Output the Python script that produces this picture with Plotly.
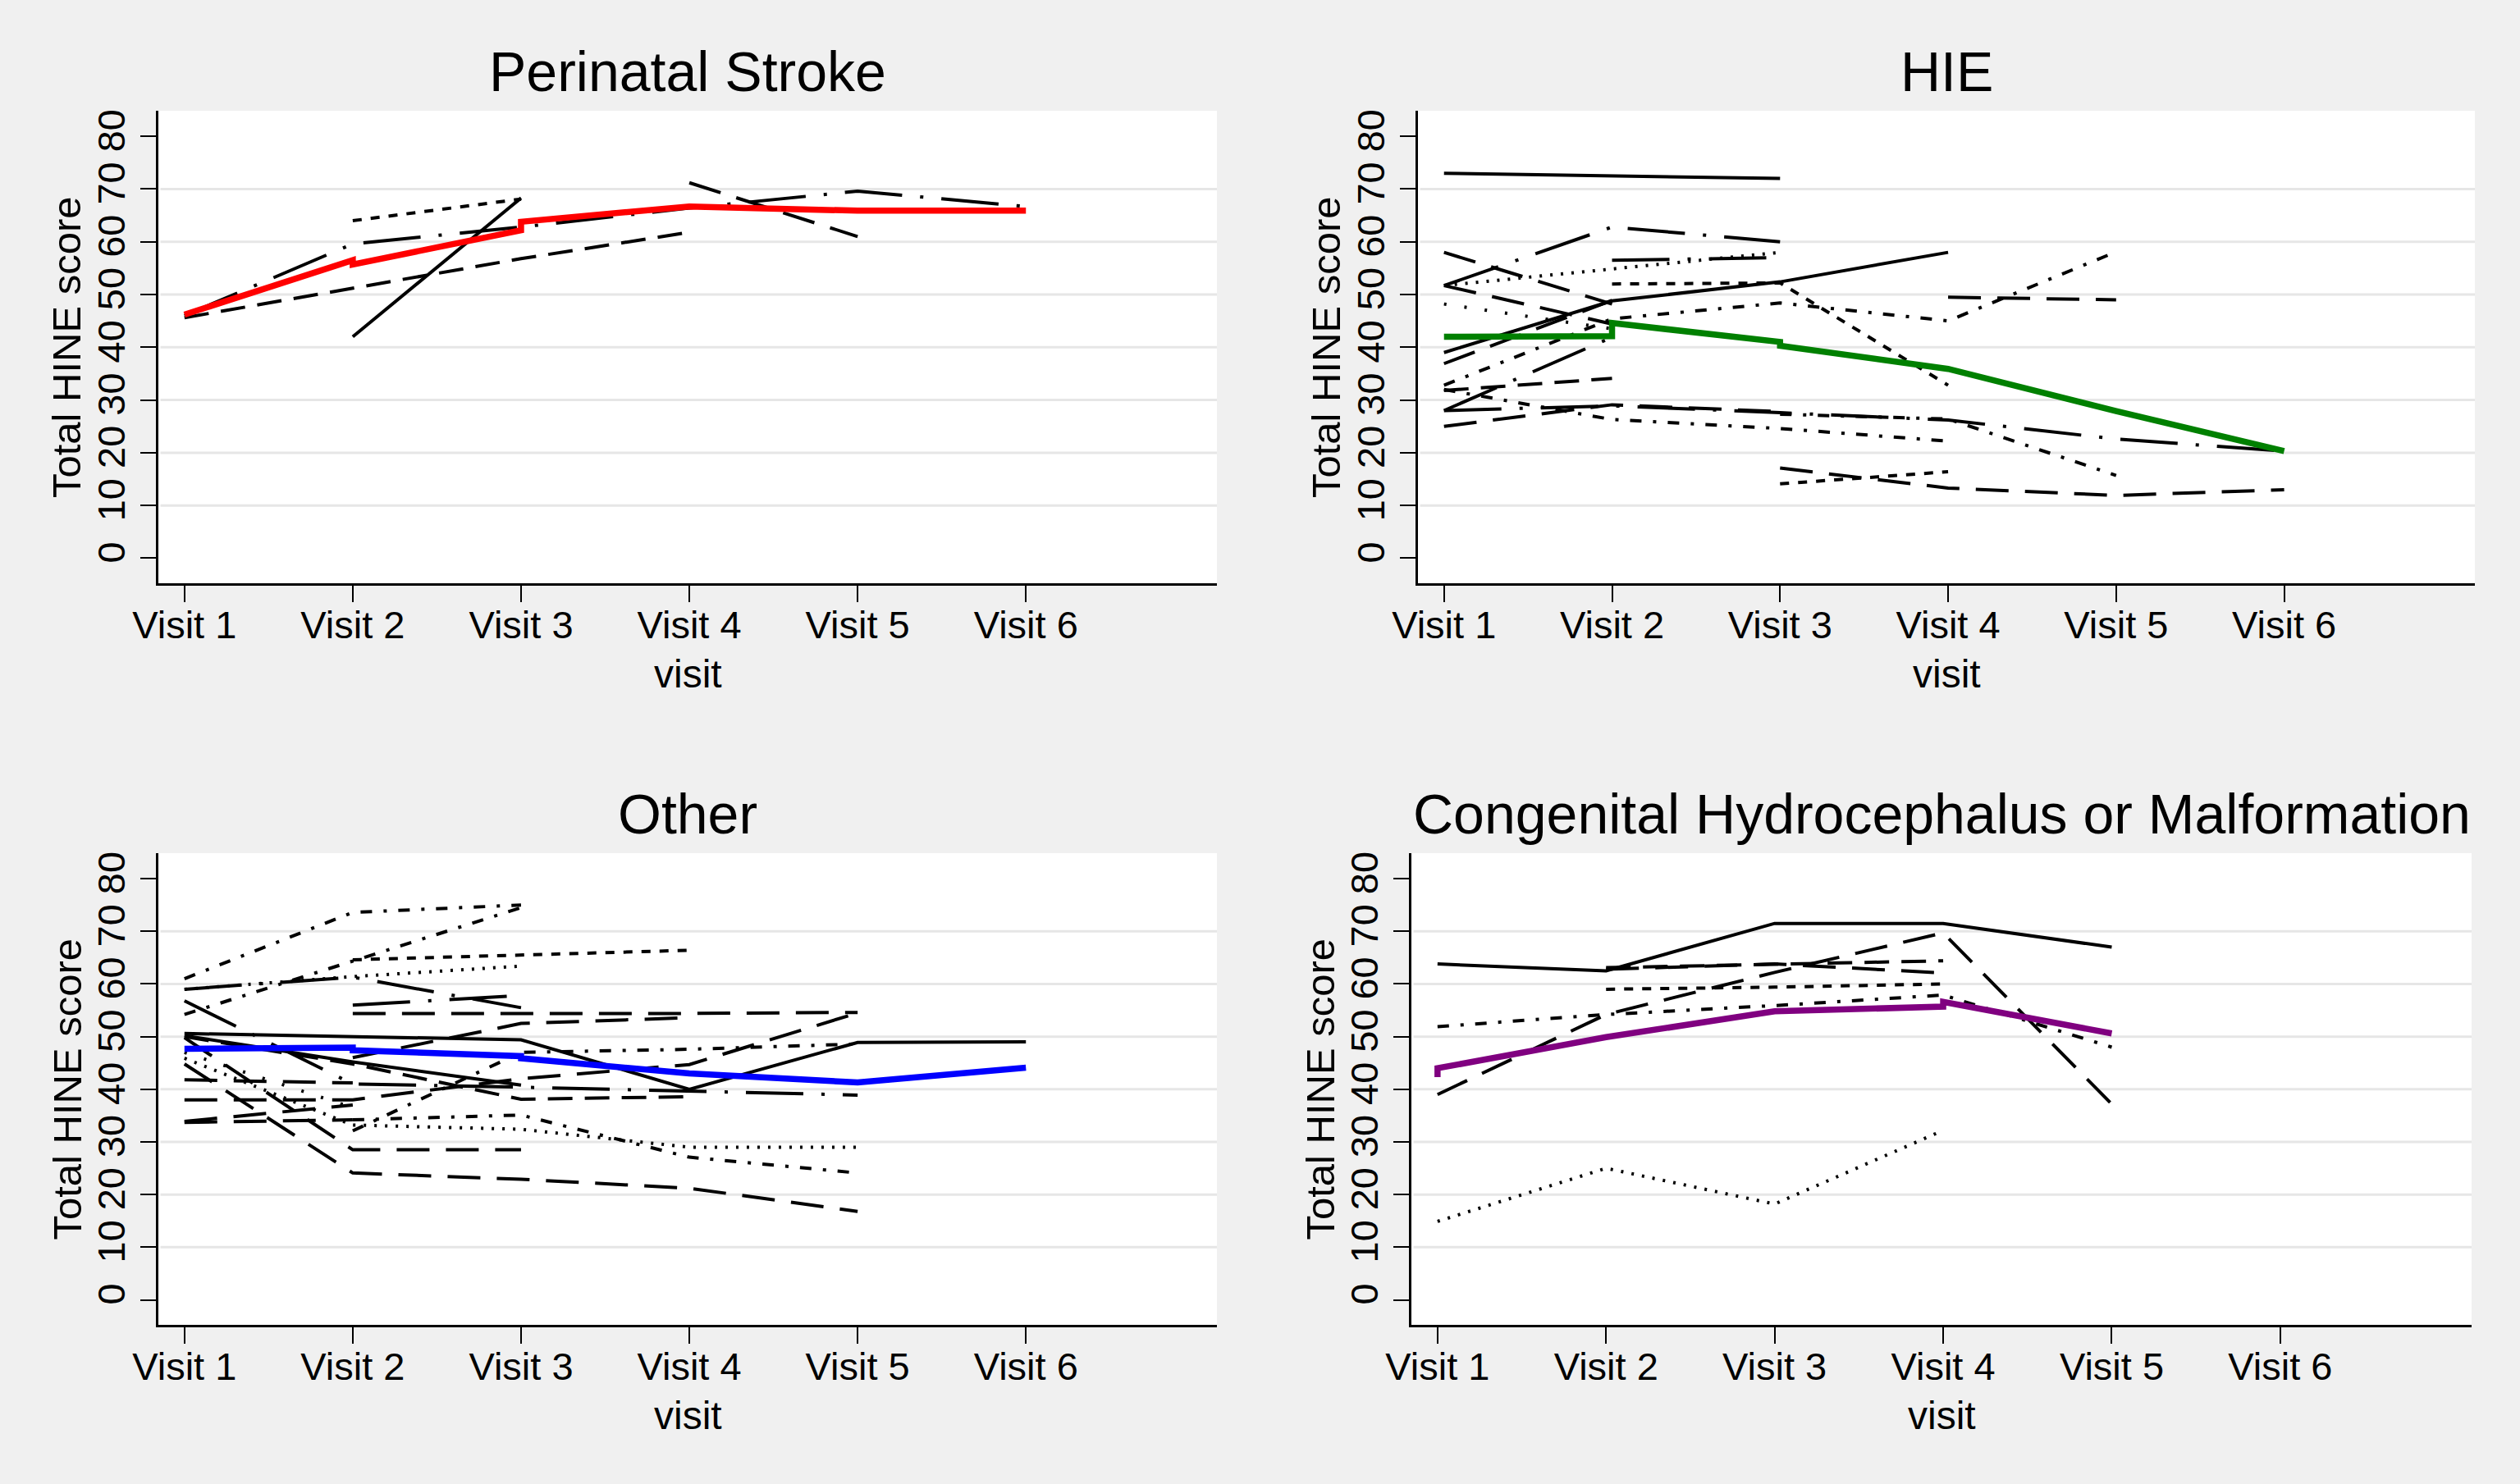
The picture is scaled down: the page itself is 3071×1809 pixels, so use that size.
import plotly.graph_objects as go

W, H = 3071, 1809

VISITS = [1, 2, 3, 4, 5, 6]
VISIT_LABELS = ["Visit 1", "Visit 2", "Visit 3", "Visit 4", "Visit 5", "Visit 6"]
Y_TICKS = [0, 10, 20, 30, 40, 50, 60, 70, 80]
GRID_VALUES = [10, 20, 30, 40, 50, 60, 70]
PANEL_TITLES = ["Perinatal Stroke", "HIE", "Other", "Congenital Hydrocephalus or Malformation"]
X_TITLE = "visit"
Y_TITLE = "Total HINE score"

# ---- Perinatal Stroke: individual trajectories (visit 1..6, None = not seen)
stroke_series = [
    [45.6, 51.2, 56.8, 61.8, None, None],
    [46.0, 59.6, 62.8, 66.4, 69.6, 66.7],
    [None, 64.0, 68.1, None, None, None],
    [None, 42.0, 68.3, None, None, None],
    [None, None, None, 71.2, 61.0, None],
]
stroke_patterns = ["dash", "longdashdot", "shortdash", "solid", "longdash"]
stroke_mean_x = [1, 2, 2, 3, 3, 4, 5, 6]
stroke_mean_y = [46.2, 56.5, 55.7, 62.2, 63.8, 66.7, 65.9, 65.9]

# ---- HIE
hie_series = [
    [73.0, 72.5, 72.0, None, None, None],
    [58.0, 48.2, None, None, None, None],
    [51.7, 62.8, 60.0, None, None, None],
    [51.7, 44.4, None, None, None, None],
    [51.7, 54.9, 58.0, None, None, None],
    [None, 56.5, 57.0, None, None, None],
    [None, 52.0, 52.2, 32.8, None, None],
    [39.0, 48.8, 52.4, 58.0, None, None],
    [36.9, 48.9, None, None, None, None],
    [48.2, 43.5, None, None, None, None],
    [32.8, 45.4, 48.4, 45.0, 58.1, None],
    [31.8, 34.1, None, None, None, None],
    [28.0, 41.9, None, None, None, None],
    [28.0, 28.9, 27.6, 26.2, 22.6, 20.3],
    [25.0, 29.1, 27.8, None, None, None],
    [32.0, 26.3, 24.6, 22.2, None, None],
    [None, None, None, 49.5, 49.0, None],
    [None, None, 27.3, 26.4, 15.7, None],
    [None, None, 17.1, 13.3, 11.9, 13.0],
    [None, None, 14.1, 16.4, None, None],
]
hie_patterns = ["solid", "longdash", "longdashdot", "longdash", "dot", "longdashdot",
                "shortdash", "solid", "longdash", "sparsedot", "dashdot", "dash",
                "longdashdot", "longdashdot", "longdash", "dashdot", "longdash",
                "dashdot", "longdash", "shortdash"]
hie_mean_x = [1, 2, 2, 3, 3, 4, 5, 6]
hie_mean_y = [42.0, 42.1, 44.6, 41.0, 40.3, 35.9, 27.9, 20.3]

# ---- Other
other_series = [
    [61.0, 73.6, 75.0, None, None, None],
    [54.2, 64.4, 74.5, None, None, None],
    [None, 64.6, 65.5, 66.4, None, None],
    [59.0, 61.4, 63.4, None, None, None],
    [59.0, 61.3, 55.5, None, None, None],
    [56.8, 41.0, 40.4, 39.6, 38.9, None],
    [None, 54.4, 54.4, 54.4, 54.6, None],
    [None, 56.0, 57.8, None, None, None],
    [50.6, 50.0, 49.4, 40.0, 48.9, 49.0],
    [None, 46.0, 52.5, 53.6, None, None],
    [38.0, 38.0, 42.0, 44.7, 54.5, None],
    [None, 32.1, 47.0, 47.6, 48.6, None],
    [41.8, 41.2, None, None, None, None],
    [50.0, 44.8, 38.1, 38.6, None, None],
    [44.8, 24.1, 22.9, 21.2, 16.8, None],
    [None, 34.2, 35.1, 27.1, 24.1, None],
    [45.9, 33.2, 32.4, 29.0, 29.0, None],
    [49.8, 28.5, 28.5, None, None, None],
    [33.9, 37.0, None, None, None, None],
    [33.7, 34.2, None, None, None, None],
    [47.0, 36.5, None, None, None, None],
    [50.2, 45.2, 40.8, None, None, None],
]
other_patterns = ["dashdot", "dashdot", "shortdash", "dot", "longdashdot", "longdashdot",
                  "longdash", "longdashdot", "solid", "longdash", "longdash", "dashdot",
                  "longdash", "dash", "longdash", "dashdot", "dot", "longdash",
                  "longdash", "longdash", "sparsedot", "solid"]
other_mean_x = [1, 2, 2, 3, 3, 4, 5, 6]
other_mean_y = [47.7, 47.9, 47.4, 46.3, 45.9, 43.0, 41.3, 44.1]

# ---- Congenital Hydrocephalus or Malformation
cong_series = [
    [63.8, 62.5, 71.5, 71.5, 67.0, None],
    [39.0, 54.2, 62.2, 69.7, 37.2, None],
    [None, 63.1, 63.7, 64.4, None, None],
    [None, 62.8, 63.8, 62.1, None, None],
    [None, 59.0, 59.4, 60.0, None, None],
    [51.9, 54.2, 55.9, 57.9, 48.0, None],
    [14.9, 25.0, 18.2, 32.2, None, None],
]
cong_patterns = ["solid", "longdash", "dash", "longdash", "shortdash", "dashdot", "dot"]
cong_mean_x = [1, 1, 2, 3, 4, 4, 5]
cong_mean_y = [42.3, 44.0, 49.9, 54.8, 55.7, 56.6, 50.6]

MEAN_COLORS = ["#FF0000", "#008000", "#0000FF", "#800080"]

DASHES = {
    "solid": "solid",
    "dash": "30px,15px",
    "shortdash": "11px,11px",
    "longdash": "40px,20px",
    "longdashdot": "70px,22px,4px,22px",
    "dashdot": "14px,14px,4px,14px",
    "dot": "3px,10px",
    "sparsedot": "3px,22px",
}

FONT = "Liberation Sans, Arial, Helvetica, sans-serif"

# plot-area boxes in pixels: (left, right, top, bottom)
BOXES = [
    (193, 1483, 135, 711),
    (1728, 3016, 135, 711),
    (193, 1483, 1040, 1615),
    (1720, 3012, 1040, 1615),
]

panels = [
    (stroke_series, stroke_patterns, stroke_mean_x, stroke_mean_y),
    (hie_series, hie_patterns, hie_mean_x, hie_mean_y),
    (other_series, other_patterns, other_mean_x, other_mean_y),
    (cong_series, cong_patterns, cong_mean_x, cong_mean_y),
]

fig = go.Figure()
layout = dict(
    width=W, height=H,
    margin=dict(l=0, r=0, t=0, b=0, autoexpand=False),
    paper_bgcolor="#F0F0F0",
    plot_bgcolor="#FFFFFF",
    showlegend=False,
    font=dict(family=FONT, color="black"),
    shapes=[], annotations=[],
)

for i, (series, patterns, mx, my) in enumerate(panels):
    n = i + 1
    sfx = "" if n == 1 else str(n)
    xa, ya = "x" + sfx, "y" + sfx
    for vals, pat in zip(series, patterns):
        fig.add_trace(go.Scatter(
            x=VISITS, y=vals, mode="lines", xaxis=xa, yaxis=ya,
            line=dict(color="black", width=4, dash=DASHES[pat]),
            connectgaps=False, hoverinfo="skip"))
    fig.add_trace(go.Scatter(
        x=mx, y=my, mode="lines", xaxis=xa, yaxis=ya,
        line=dict(color=MEAN_COLORS[i], width=7.5), hoverinfo="skip"))

    l, r, t, b = BOXES[i]
    layout["xaxis" + sfx] = dict(
        domain=[l / W, r / W], anchor=ya, range=[0.845, 7.135],
        automargin=False,
        tickmode="array", tickvals=VISITS, ticktext=VISIT_LABELS,
        ticks="outside", ticklen=20, tickwidth=2, tickcolor="black",
        ticklabelstandoff=-12,
        showline=True, linecolor="black", linewidth=3,
        showgrid=False, zeroline=False,
        tickfont=dict(size=47, family=FONT, color="black"))
    layout["yaxis" + sfx] = dict(
        domain=[1 - b / H, 1 - t / H], anchor=xa, range=[-4.75, 84.85],
        automargin=False,
        tickmode="array", tickvals=Y_TICKS, tickangle=-90,
        ticks="outside", ticklen=19, tickwidth=2, tickcolor="black",
        showline=True, linecolor="black", linewidth=3,
        showgrid=False, zeroline=False,
        tickfont=dict(size=47, family=FONT, color="black"))
    for g in GRID_VALUES:
        layout["shapes"].append(dict(
            type="line", xref=xa + " domain", yref=ya, x0=0.002, x1=1, y0=g, y1=g,
            line=dict(color="#E6E6E6", width=3), layer="below"))
    cx = (l + r) / 2
    layout["annotations"].append(dict(
        text=PANEL_TITLES[i], xref="paper", yref="paper",
        x=cx / W, y=1 - (t - 48) / H, xanchor="center", yanchor="middle",
        showarrow=False, font=dict(size=68, family=FONT, color="black")))
    layout["annotations"].append(dict(
        text=X_TITLE, xref="paper", yref="paper",
        x=cx / W, y=1 - (b + 110) / H, xanchor="center", yanchor="middle",
        showarrow=False, font=dict(size=48, family=FONT, color="black")))
    layout["annotations"].append(dict(
        text=Y_TITLE, xref="paper", yref="paper",
        x=(l - 112) / W, y=1 - ((t + b) / 2) / H, xanchor="center", yanchor="middle",
        textangle=-90, showarrow=False,
        font=dict(size=49, family=FONT, color="black")))

fig.update_layout(**layout)
fig.write_html("out.html",
               config={"displayModeBar": False, "responsive": False},
               post_script="document.body.style.margin='0';document.body.style.overflow='hidden';")
